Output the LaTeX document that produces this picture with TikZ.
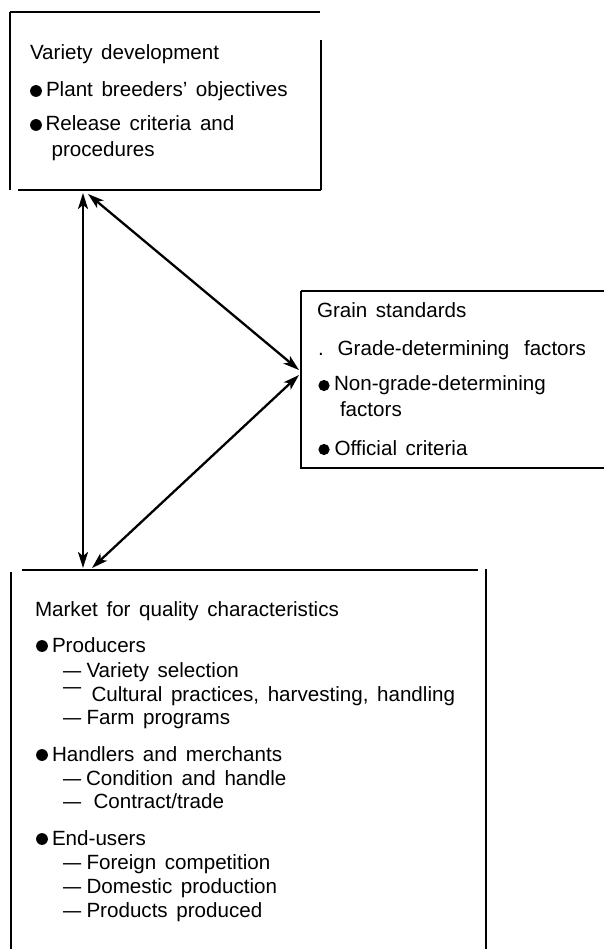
\documentclass[tikz,border=0pt]{standalone}
\usepackage{fontspec}
\usepackage{graphicx}
\setmainfont{Liberation Sans}[WordSpace=1.5]
\usetikzlibrary{arrows.meta}
\newcommand\diagfs{\fontsize{20.6}{24}\selectfont}
\newcommand\sdash{\makebox[18.5pt][l]{\scalebox{0.88}[1]{—}}}
\begin{document}
\begin{tikzpicture}[x=1pt,y=-1pt,
  boxarea/.style={draw=none,inner sep=0pt,outer sep=0pt,rectangle},
  boxline/.style={line width=2.3pt,black},
  txt/.style={anchor=base west,inner sep=0pt,outer sep=0pt,font=\diagfs},
  bul/.style={fill=black},
  arr/.style={line width=2.3pt,{Stealth[length=16pt,width=10pt,inset=4pt]}-{Stealth[length=16pt,width=10pt,inset=4pt]}}]
\useasboundingbox (0,0) rectangle (603,949);
% box areas
\node[boxarea,minimum width=311pt,minimum height=178pt] (A) at (165.5,101) {};
\node[boxarea,minimum width=312pt,minimum height=177pt] (B) at (457,379.5) {};
\node[boxarea,minimum width=475pt,minimum height=385pt] (C) at (248.5,762.5) {};
% box borders (open, as printed)
\draw[boxline] (A.north west) -- ([xshift=-1pt]A.north east);
\draw[boxline] (A.north west) -- (A.south west);
\draw[boxline] ([yshift=-28pt]A.north east) -- (A.south east);
\draw[boxline] ([xshift=8pt]A.south west) -- (A.south east);
\draw[boxline] (B.north west) -- (B.north east);
\draw[boxline] (B.north west) -- (B.south west) -- (B.south east);
\draw[boxline] ([xshift=11pt]C.north west) -- ([xshift=-8pt]C.north east);
\draw[boxline] ([yshift=-2pt]C.north west) -- (C.south west);
\draw[boxline] ([yshift=1pt]C.north east) -- (C.south east);
% texts: Variety development
\node[txt] (a0) at (30,60) {Variety development};
\fill[bul] (36,91) circle (5.9);
\node[txt] (a1t) at (46,97) {Plant breeders’ objectives};
\fill[bul] (36,125) circle (5.9);
\node[txt] (a2t) at (45.5,131) {Release criteria and};
\node[txt] (a3t) at (51.6,157) {procedures};
% Grain standards
\node[txt] (b0) at (317,317) {Grain standards};
\node[txt] (b1t) at (318,355) {.\hspace{14pt}Grade-determining\hspace{6pt} factors};
\fill[bul] (324,385.5) circle (5.6);
\node[txt] (b2t) at (334,390) {Non-grade-determining};
\node[txt] (b3t) at (340,416) {factors};
\fill[bul] (324,449.5) circle (5.6);
\node[txt] (b4t) at (334.5,455) {Official criteria};
% Market
\node[txt] (c0) at (35,616) {Market for quality characteristics};
\fill[bul] (42,646) circle (5.9);
\node[txt] (c1t) at (52,652) {Producers};
\node[txt] (c2t) at (63,677) {\sdash\hspace{5pt}Variety selection};
\node[txt] (c3t) at (63,701) {\smash{\raisebox{8pt}{\sdash}}\hspace{10pt}Cultural practices, harvesting, handling};
\node[txt] (c4t) at (63,724) {\sdash\hspace{5pt}Farm programs};
\fill[bul] (42,755) circle (5.9);
\node[txt] (c5t) at (52,761) {Handlers and merchants};
\node[txt] (c6t) at (63,785) {\sdash\hspace{4.5pt}Condition and handle};
\node[txt] (c7t) at (63,808) {\sdash\hspace{12pt}Contract/trade};
\fill[bul] (42,839) circle (5.9);
\node[txt] (c8t) at (52,845) {End-users};
\node[txt] (c9t) at (63,869) {\sdash\hspace{5pt}Foreign competition};
\node[txt] (c10t) at (63,893) {\sdash\hspace{5pt}Domestic production};
\node[txt] (c11t) at (63,917) {\sdash\hspace{5pt}Products produced};
% connector ends
\coordinate (pA1) at ([xshift=73pt,yshift=-3pt]A.south west);
\coordinate (pC1) at ([xshift=72pt,yshift=2pt]C.north west);
\coordinate (pA2) at ([xshift=78pt,yshift=-4pt]A.south west);
\coordinate (pB1) at ([xshift=-2pt,yshift=9.5pt]B.west);
\coordinate (pB2) at ([xshift=-2pt,yshift=4.5pt]B.west);
\coordinate (pC2) at ([xshift=81pt,yshift=2pt]C.north west);
\draw[arr] (pA1) -- (pC1);
\draw[arr] (pA2) -- (pB1);
\draw[arr] (pB2) -- (pC2);
\end{tikzpicture}
\end{document}
